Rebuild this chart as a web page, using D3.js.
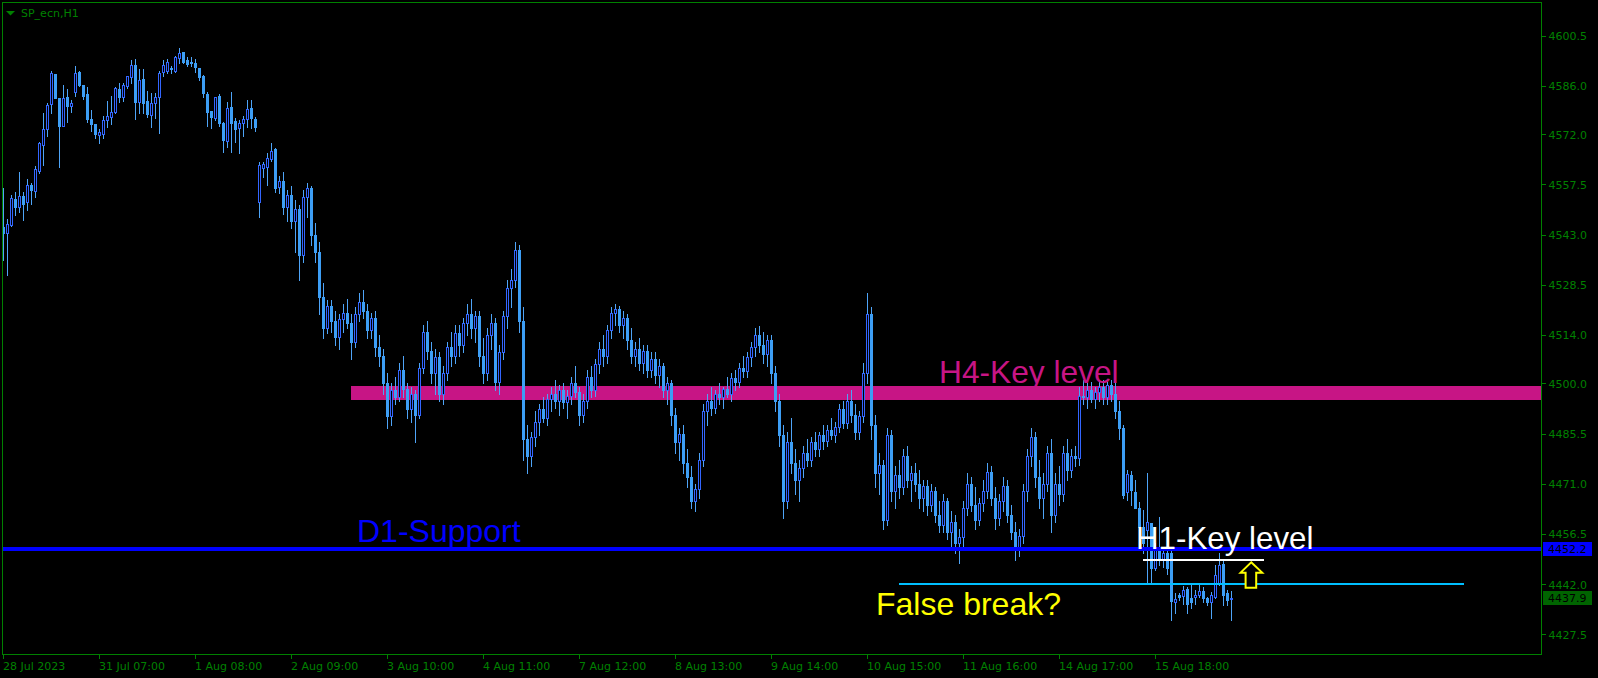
<!DOCTYPE html>
<html>
<head>
<meta charset="utf-8">
<script src="https://cdn.jsdelivr.net/npm/d3@7"></script>
<style>
html,body{margin:0;padding:0;background:#000;overflow:hidden;}
svg{display:block;}
</style>
</head>
<body>
<svg id="chart" width="1598" height="678"></svg>
<script>
// ---- data (H1 candles, SP_ecn) ----
const open = [
4545.1,4543.6,4545.8,4553.2,4551.1,4554.2,4552.3,4557.4,4555.7,4561.5,
4568.9,4573.5,4580.7,4589.4,4582.4,4574.4,4582.7,4580.3,4584.3,4590.0,
4586.3,4583.7,4576.4,4575.0,4571.9,4572.1,4576.1,4577.1,4578.5,4585.0,
4582.7,4586.0,4588.7,4592.0,4581.4,4587.9,4581.6,4577.6,4581.1,4582.7,
4590.1,4590.4,4591.1,4590.4,4594.0,4595.7,4593.5,4592.9,4592.5,4591.1,
4588.9,4583.7,4578.7,4576.6,4583.1,4575.2,4570.2,4579.8,4575.9,4573.7,
4575.4,4576.3,4579.5,4576.3,4552.3,4562.2,4562.6,4564.8,4567.7,4556.9,
4558.6,4551.0,4554.5,4547.0,4550.5,4537.0,4554.0,4556.5,4543.0,4538.0,
4525.0,4516.0,4522.5,4518.0,4513.5,4518.5,4520.5,4517.5,4512.0,4520.0,
4523.5,4521.0,4515.5,4519.0,4510.5,4508.0,4500.0,4490.5,4498.0,4496.0,
4504.0,4498.5,4492.5,4497.0,4491.0,4504.5,4515.0,4509.5,4503.0,4507.5,
4497.0,4503.0,4510.5,4508.0,4514.5,4511.0,4517.5,4520.0,4516.0,4519.5,
4508.0,4503.0,4514.0,4517.5,4500.5,4509.0,4519.5,4527.5,4530.0,4538.5,
4518.0,4484.0,4479.0,4484.5,4489.0,4492.5,4490.0,4495.5,4497.0,4495.0,
4498.0,4494.5,4496.5,4500.0,4497.5,4491.0,4495.0,4502.0,4498.0,4505.5,
4510.0,4508.0,4515.5,4520.5,4521.5,4517.0,4519.0,4512.5,4508.0,4510.0,
4506.0,4509.5,4504.0,4507.0,4502.5,4505.0,4498.0,4500.0,4491.0,4483.0,
4485.5,4477.0,4473.0,4466.0,4469.5,4478.0,4492.0,4495.0,4493.0,4497.0,
4496.0,4498.5,4497.0,4501.5,4500.5,4504.5,4503.5,4507.5,4510.5,4514.0,
4511.0,4508.5,4512.5,4503.0,4495.0,4485.0,4466.0,4483.0,4477.0,4472.0,
4475.5,4480.0,4478.0,4483.0,4481.0,4485.0,4483.5,4486.5,4485.0,4487.5,
4492.5,4488.5,4495.0,4491.0,4486.0,4490.5,4503.0,4520.0,4488.0,4474.0,
4476.5,4460.5,4485.0,4469.0,4473.5,4470.0,4479.0,4472.0,4474.0,4471.0,
4467.0,4470.5,4465.0,4469.0,4462.0,4459.0,4466.0,4457.0,4460.0,4454.0,
4455.5,4464.0,4471.0,4465.0,4460.5,4465.5,4469.0,4474.5,4467.0,4461.0,
4466.0,4470.5,4462.0,4457.0,4452.5,4456.0,4469.0,4479.0,4484.5,4473.0,
4467.0,4471.0,4480.0,4462.0,4471.0,4468.0,4480.0,4475.0,4479.0,4478.5,
4496.5,4496.0,4498.0,4495.5,4497.5,4499.0,4496.0,4499.5,4497.0,4492.0,
4487.0,4468.7,4473.5,4468.7,4463.9,4458.4,4457.6,4459.6,4446.6,4452.0,
4449.0,4450.9,4450.9,4436.9,4438.9,4438.6,4440.5,4437.9,4438.2,4438.9,
4440.1,4437.9,4436.7,4438.4,4442.2,4447.8,4439.5,4437.6
];
const high = [
4556.4,4547.5,4554.5,4555.2,4561.1,4555.2,4559.1,4557.8,4562.8,4569.9,
4578.1,4581.0,4590.3,4589.5,4582.4,4586.3,4585.0,4581.9,4591.7,4590.4,
4586.3,4585.8,4579.0,4575.0,4573.4,4577.3,4581.6,4583.1,4585.8,4586.9,
4586.7,4588.9,4593.5,4593.8,4590.8,4590.8,4584.6,4583.8,4583.8,4590.4,
4593.5,4593.7,4591.6,4594.6,4596.9,4595.7,4594.2,4594.2,4593.7,4591.1,
4589.1,4584.3,4578.7,4582.9,4583.7,4575.7,4581.4,4584.3,4576.6,4576.1,
4577.3,4581.9,4581.9,4576.9,4564.1,4564.1,4566.5,4569.6,4568.0,4560.0,
4561.0,4556.0,4557.0,4553.0,4551.5,4556.0,4558.0,4557.0,4546.5,4541.0,
4529.0,4524.0,4524.0,4521.0,4520.0,4523.0,4524.5,4520.0,4522.0,4526.0,
4527.0,4523.0,4520.5,4521.0,4514.0,4510.0,4503.0,4500.0,4502.0,4506.0,
4508.0,4500.0,4499.0,4498.0,4506.0,4517.0,4518.0,4512.0,4510.0,4509.0,
4505.0,4512.0,4515.0,4517.0,4517.0,4519.0,4523.0,4524.5,4521.0,4521.0,
4513.0,4516.0,4520.0,4519.0,4511.0,4521.0,4530.0,4533.0,4541.0,4540.0,
4522.0,4488.0,4486.0,4492.0,4494.0,4496.0,4497.0,4499.0,4501.0,4499.5,
4500.0,4498.0,4502.0,4505.0,4499.0,4497.0,4504.0,4505.0,4507.0,4512.0,
4514.0,4517.0,4522.0,4523.0,4522.5,4521.0,4520.0,4516.0,4512.0,4513.0,
4511.0,4511.0,4509.0,4509.0,4507.0,4506.0,4502.0,4501.0,4493.0,4487.0,
4488.0,4481.0,4476.0,4471.0,4480.0,4494.0,4497.0,4499.0,4498.0,4500.0,
4499.0,4502.0,4503.0,4504.0,4506.0,4508.0,4509.0,4512.0,4516.0,4516.5,
4515.0,4514.0,4514.0,4505.0,4497.0,4488.0,4486.0,4490.0,4481.0,4478.0,
4482.0,4484.0,4484.5,4486.0,4486.0,4488.0,4488.0,4490.0,4489.0,4494.0,
4495.0,4497.0,4498.0,4494.0,4492.0,4506.0,4526.0,4522.0,4491.0,4480.0,
4478.0,4487.0,4486.5,4476.0,4478.0,4481.0,4482.0,4476.0,4477.0,4475.0,
4472.0,4472.0,4471.0,4470.0,4466.0,4468.0,4467.0,4463.0,4462.0,4458.0,
4466.0,4474.0,4473.0,4470.0,4467.0,4472.0,4477.0,4476.0,4470.0,4468.0,
4473.0,4472.0,4465.0,4460.0,4458.0,4471.0,4481.0,4487.0,4486.0,4478.0,
4474.0,4482.0,4484.0,4474.0,4476.0,4482.0,4484.0,4481.0,4482.0,4499.0,
4501.0,4500.0,4500.5,4499.0,4501.0,4501.0,4500.5,4501.0,4500.0,4495.0,
4488.0,4475.0,4474.8,4472.1,4465.8,4463.4,4474.0,4459.6,4453.8,4461.5,
4452.0,4452.0,4451.5,4439.3,4439.3,4441.4,4441.3,4441.7,4440.3,4441.7,
4441.3,4438.4,4439.8,4447.5,4450.9,4449.0,4440.3,4440.0
];
const low = [
4535.7,4531.3,4545.5,4548.7,4549.5,4547.2,4550.1,4552.0,4554.0,4560.9,
4563.1,4571.5,4578.3,4582.4,4562.6,4574.4,4575.7,4578.5,4583.1,4586.0,
4582.3,4575.7,4573.0,4570.8,4569.6,4570.8,4574.2,4575.0,4578.3,4581.4,
4581.7,4585.3,4586.7,4576.4,4578.3,4578.3,4577.1,4574.2,4576.6,4572.5,
4588.9,4589.8,4589.8,4590.1,4592.7,4592.7,4591.7,4591.6,4590.1,4587.7,
4582.7,4574.4,4573.7,4576.1,4574.4,4567.0,4568.4,4567.0,4569.9,4566.5,
4571.5,4574.0,4573.7,4573.0,4548.2,4559.8,4557.4,4564.4,4555.4,4555.0,
4549.0,4547.0,4545.0,4538.0,4530.0,4535.0,4548.0,4540.0,4535.0,4520.0,
4513.0,4514.5,4515.0,4511.0,4510.0,4515.0,4516.0,4507.0,4510.5,4518.0,
4519.0,4513.0,4513.0,4508.0,4505.0,4497.0,4487.0,4488.0,4494.0,4495.0,
4496.0,4490.0,4489.0,4483.0,4490.0,4503.0,4507.0,4500.0,4497.0,4495.0,
4494.0,4501.0,4505.0,4506.0,4508.0,4509.0,4514.0,4513.0,4512.0,4505.0,
4500.0,4501.0,4510.0,4498.0,4497.0,4507.0,4516.0,4522.0,4528.0,4515.0,
4478.0,4474.0,4476.0,4482.0,4485.0,4489.0,4488.0,4492.0,4493.0,4491.0,
4493.0,4490.0,4494.0,4496.0,4488.0,4489.0,4493.0,4496.0,4496.5,4503.0,
4505.0,4506.0,4513.0,4517.0,4515.0,4513.0,4510.0,4506.0,4505.0,4504.0,
4503.0,4502.0,4502.0,4500.0,4499.0,4496.0,4494.0,4488.0,4480.0,4478.0,
4474.0,4470.0,4464.0,4463.0,4467.0,4476.0,4488.0,4491.0,4491.5,4494.0,
4493.0,4496.0,4495.0,4498.0,4499.0,4502.0,4502.0,4505.0,4508.0,4509.0,
4506.0,4505.0,4500.0,4492.0,4482.0,4461.0,4464.0,4474.0,4468.0,4466.0,
4473.0,4476.0,4476.0,4479.0,4479.0,4481.0,4482.0,4484.0,4483.0,4486.0,
4487.0,4487.0,4489.0,4484.0,4484.0,4489.0,4500.0,4484.0,4470.0,4468.0,
4458.0,4459.0,4466.0,4464.0,4467.0,4468.0,4470.0,4466.0,4469.0,4464.0,
4463.0,4462.0,4463.0,4460.0,4457.0,4457.0,4455.0,4453.0,4451.0,4448.0,
4453.0,4462.0,4463.0,4458.0,4459.0,4463.0,4467.0,4465.0,4458.0,4459.0,
4463.0,4460.0,4455.0,4449.0,4450.0,4454.0,4466.0,4476.0,4470.0,4464.0,
4461.0,4469.0,4457.0,4460.0,4465.0,4466.0,4472.0,4473.0,4476.0,4476.4,
4494.0,4493.0,4494.5,4493.0,4495.0,4494.0,4494.0,4495.0,4490.0,4484.0,
4467.0,4466.3,4464.9,4463.9,4456.7,4450.9,4442.2,4442.2,4446.0,4447.5,
4447.0,4445.0,4431.6,4433.6,4437.4,4436.4,4433.6,4435.0,4436.4,4438.4,
4436.9,4436.0,4432.1,4437.9,4441.7,4436.0,4436.0,4431.6
];
const close = [
4543.4,4546.1,4553.5,4551.1,4554.2,4552.0,4557.4,4555.9,4562.0,4569.4,
4573.4,4580.5,4589.8,4582.4,4574.5,4582.4,4580.3,4581.1,4589.6,4586.3,
4583.1,4576.4,4575.0,4572.1,4572.7,4576.1,4577.3,4578.4,4585.3,4582.9,
4586.3,4588.9,4592.0,4581.4,4587.7,4581.1,4577.9,4581.1,4582.7,4589.6,
4592.0,4593.0,4590.8,4594.2,4595.4,4593.0,4592.3,4592.5,4591.4,4588.5,
4583.8,4578.5,4577.1,4582.7,4575.2,4570.4,4579.5,4575.4,4573.4,4575.2,
4576.3,4579.2,4576.6,4574.2,4563.1,4563.4,4565.1,4567.2,4556.4,4558.6,
4551.0,4554.5,4547.0,4550.5,4537.0,4554.0,4556.5,4543.0,4538.0,4525.0,
4516.0,4522.5,4518.0,4513.5,4518.5,4520.5,4517.5,4512.0,4520.0,4523.5,
4521.0,4515.5,4519.0,4510.5,4508.0,4500.0,4490.5,4498.0,4496.0,4504.0,
4498.5,4492.5,4497.0,4491.0,4504.5,4515.0,4509.5,4503.0,4507.5,4497.0,
4503.0,4510.5,4508.0,4514.5,4511.0,4517.5,4520.0,4516.0,4519.5,4508.0,
4503.0,4514.0,4517.5,4500.5,4509.0,4519.5,4527.5,4530.0,4538.5,4518.0,
4484.0,4479.0,4484.5,4489.0,4492.5,4490.0,4495.5,4497.0,4495.0,4498.0,
4494.5,4496.5,4500.0,4497.5,4491.0,4495.0,4502.0,4498.0,4505.5,4510.0,
4508.0,4515.5,4520.5,4521.5,4517.0,4519.0,4512.5,4508.0,4510.0,4506.0,
4509.5,4504.0,4507.0,4502.5,4505.0,4498.0,4500.0,4491.0,4483.0,4485.5,
4477.0,4473.0,4466.0,4469.5,4478.0,4492.0,4495.0,4493.0,4497.0,4496.0,
4498.5,4497.0,4501.5,4500.5,4504.5,4503.5,4507.5,4510.5,4514.0,4511.0,
4508.5,4512.5,4503.0,4495.0,4485.0,4466.0,4483.0,4477.0,4472.0,4475.5,
4480.0,4478.0,4483.0,4481.0,4485.0,4483.5,4486.5,4485.0,4487.5,4492.5,
4488.5,4495.0,4491.0,4486.0,4490.5,4503.0,4520.0,4488.0,4474.0,4476.5,
4460.5,4485.0,4469.0,4473.5,4470.0,4479.0,4472.0,4474.0,4471.0,4467.0,
4470.5,4465.0,4469.0,4462.0,4459.0,4466.0,4457.0,4460.0,4454.0,4455.5,
4464.0,4471.0,4465.0,4460.5,4465.5,4469.0,4474.5,4467.0,4461.0,4466.0,
4470.5,4462.0,4457.0,4452.5,4456.0,4469.0,4479.0,4484.5,4473.0,4467.0,
4471.0,4480.0,4462.0,4471.0,4468.0,4480.0,4475.0,4479.0,4478.5,4496.5,
4496.0,4498.0,4495.5,4497.5,4499.0,4496.0,4499.5,4497.0,4492.0,4487.0,
4467.8,4473.8,4469.2,4463.9,4458.4,4454.0,4460.0,4446.6,4451.9,4449.0,
4450.9,4446.6,4437.2,4437.6,4438.4,4440.3,4436.3,4436.9,4438.9,4439.9,
4437.9,4436.9,4438.8,4444.6,4447.5,4438.8,4437.4,4437.9
];

// axis labels
const priceTicks = [4600.5,4586.0,4572.0,4557.5,4543.0,4528.5,4514.0,4500.0,4485.5,4471.0,4456.5,4442.0,4427.5];
const timeTickBars = [0,24,48,72,96,120,144,168,192,216,240,264,288];
const timeTickLabels = ["28 Jul 2023","31 Jul 07:00","1 Aug 08:00","2 Aug 09:00","3 Aug 10:00","4 Aug 11:00","7 Aug 12:00","8 Aug 13:00","9 Aug 14:00","10 Aug 15:00","11 Aug 16:00","14 Aug 17:00","15 Aug 18:00"];

// levels (price values)
const h4Zone = [4495.3, 4499.3];
const d1Support = 4452.2;
const h1Key = 4449.0;
const falseBreak = 4442.1;
const lastPrice = 4437.9;

// ---- drawing ----
const svg = d3.select("#chart");
const W = 1598, H = 678;
const plotL = 2.5, plotR = 1541.5, plotT = 2.5, plotB = 654.5;
const GREEN = "#008000";

const x = d3.scaleLinear().domain([0, 385]).range([3, 3 + 4 * 385]);
const y = d3.scaleLinear().domain([4427.5, 4600.5]).range([634.3, 35.7]);

svg.append("rect").attr("width", W).attr("height", H).attr("fill", "#000");

const bars = d3.range(close.length).map(i => ({i, o: open[i], h: high[i], l: low[i], c: close[i]}));

const plot = svg.append("g").attr("shape-rendering", "crispEdges");

// H4 zone
plot.append("rect")
  .attr("x", x(86.9)).attr("width", plotR - x(86.9))
  .attr("y", y(h4Zone[1])).attr("height", y(h4Zone[0]) - y(h4Zone[1]))
  .attr("fill", "#c71585");

// candles
const cg = plot.append("g");
const WICK = "#4ea4f7", BEAR = "#3d9ef5", BULL = "#3366ff";
bars.forEach(b => {
  const cx = Math.round(x(b.i));
  cg.append("line")
    .attr("x1", cx + 0.5).attr("x2", cx + 0.5)
    .attr("y1", Math.round(y(b.h))).attr("y2", Math.round(y(b.l)) + 1)
    .attr("stroke", WICK).attr("stroke-width", 1);
  const yo = Math.round(y(b.o)), yc = Math.round(y(b.c));
  if (b.c > b.o) {
    cg.append("rect")
      .attr("x", cx - 0.5).attr("width", 2)
      .attr("y", yc + 0.5).attr("height", Math.max(1, yo - yc))
      .attr("fill", "#000").attr("stroke", BULL).attr("stroke-width", 1);
  } else {
    cg.append("rect")
      .attr("x", cx - 1).attr("width", 3)
      .attr("y", yo).attr("height", Math.max(1, yc - yo + 1))
      .attr("fill", BEAR);
  }
});

// D1 support line
plot.append("line")
  .attr("x1", plotL).attr("x2", plotR)
  .attr("y1", y(d1Support)).attr("y2", y(d1Support))
  .attr("stroke", "#0000ff").attr("stroke-width", 3.5);

// H1 key level (white)
plot.append("line")
  .attr("x1", x(284.9)).attr("x2", x(315.2))
  .attr("y1", y(h1Key)).attr("y2", y(h1Key))
  .attr("stroke", "#ffffff").attr("stroke-width", 2);

// false-break level (cyan)
plot.append("line")
  .attr("x1", x(224)).attr("x2", x(365.2))
  .attr("y1", y(falseBreak)).attr("y2", y(falseBreak))
  .attr("stroke", "#00bfff").attr("stroke-width", 2);

// arrow
const ax = x(312.05), ay = y(4448.3);
const arrowPts = [[0,0],[11,10.3],[5,10.3],[5,25.3],[-5.6,25.3],[-5.6,10.3],[-10.6,10.3]];
svg.append("polygon")
  .attr("points", arrowPts.map(p => [ax + p[0], ay + p[1]].join(",")).join(" "))
  .attr("fill", "#000").attr("stroke", "#ffff00").attr("stroke-width", 2)
  .attr("stroke-linejoin", "miter");

// annotation texts
const AF = "'Liberation Sans', Arial, sans-serif";
svg.append("text").attr("x", x(234)).attr("y", 383).text("H4-Key level")
  .attr("fill", "#c71585").attr("font-family", AF).attr("font-size", 31.7);
svg.append("text").attr("x", x(88.5)).attr("y", 541.5).text("D1-Support")
  .attr("fill", "#0000ff").attr("font-family", AF).attr("font-size", 32);
svg.append("text").attr("x", x(283.25)).attr("y", 549).text("H1-Key level")
  .attr("fill", "#ffffff").attr("font-family", AF).attr("font-size", 31.3);
svg.append("text").attr("x", x(218.25)).attr("y", 615).text("False break?")
  .attr("fill", "#ffff00").attr("font-family", AF).attr("font-size", 32);

// frame
svg.append("rect")
  .attr("x", plotL).attr("y", plotT).attr("width", plotR - plotL).attr("height", plotB - plotT)
  .attr("fill", "none").attr("stroke", GREEN).attr("stroke-width", 1)
  .attr("shape-rendering", "crispEdges");

// title
svg.append("polygon").attr("points", "6,11 15,11 10.5,15.5").attr("fill", GREEN);
svg.append("text").attr("x", 21).attr("y", 17).text("SP_ecn,H1")
  .attr("fill", GREEN).attr("font-family", "'DejaVu Sans', sans-serif").attr("font-size", 11);

// y axis (right)
const AXF = "'DejaVu Sans', sans-serif";
const yAxis = d3.axisRight(y).tickValues(priceTicks).tickSize(4).tickPadding(3)
  .tickFormat(d => d3.format(".1f")(d));
const yg = svg.append("g").attr("transform", `translate(${plotR},0)`).call(yAxis);
yg.select(".domain").remove();
yg.selectAll(".tick line").attr("stroke", GREEN).attr("shape-rendering", "crispEdges");
yg.selectAll(".tick text").attr("fill", GREEN).attr("font-family", AXF).attr("font-size", 11)
  .attr("dy", "0.36em");

// x axis (bottom)
const xg = svg.append("g");
timeTickBars.forEach((b, k) => {
  const tx = Math.round(x(b)) + 0.5;
  xg.append("line").attr("x1", tx).attr("x2", tx).attr("y1", plotB).attr("y2", plotB + 4)
    .attr("stroke", GREEN).attr("shape-rendering", "crispEdges");
  xg.append("text").attr("x", tx - 0.5).attr("y", 670).text(timeTickLabels[k])
    .attr("fill", GREEN).attr("font-family", AXF).attr("font-size", 11);
});

// price labels on the axis
function priceTag(v, bg) {
  const cy = y(v);
  svg.append("rect").attr("x", 1543).attr("y", cy - 7).attr("width", 49).attr("height", 14)
    .attr("fill", bg).attr("shape-rendering", "crispEdges");
  svg.append("text").attr("x", 1548).attr("y", cy).attr("dy", "0.36em").text(d3.format(".1f")(v))
    .attr("fill", "#000").attr("font-family", AXF).attr("font-size", 11);
}
priceTag(d1Support, "#0000ff");
priceTag(lastPrice, "#006400");
</script>
</body>
</html>
